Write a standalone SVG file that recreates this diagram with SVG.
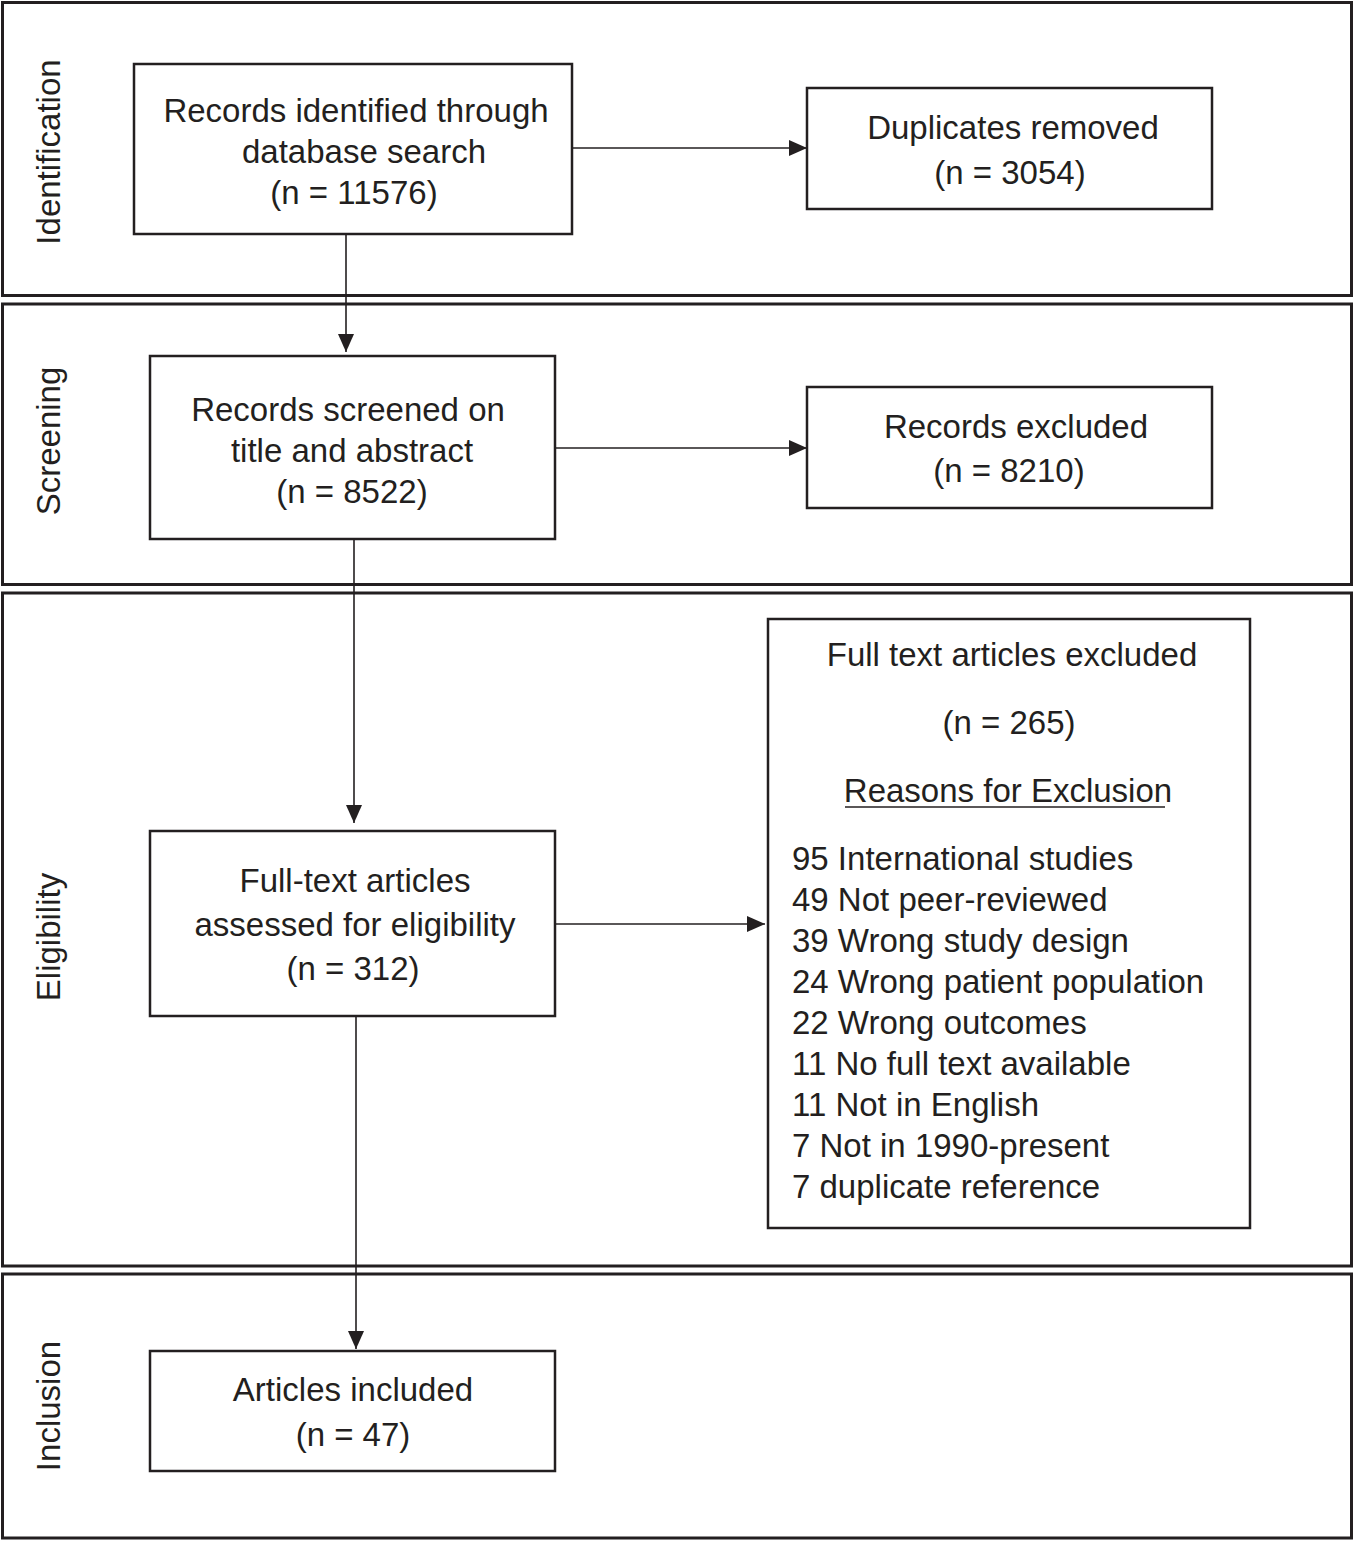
<svg xmlns="http://www.w3.org/2000/svg" width="1354" height="1541" viewBox="0 0 1354 1541">
<style>
.panel{fill:none;stroke:#231f20;stroke-width:3}
.box{fill:#fff;stroke:#231f20;stroke-width:2.5}
.conn{fill:none;stroke:#231f20;stroke-width:1.6}
text{font-family:"Liberation Sans",Arial,sans-serif;font-size:33px;fill:#231f20}
.c{text-anchor:middle}
.ph{text-anchor:middle}
</style>
<defs>
<marker id="arr" markerUnits="userSpaceOnUse" markerWidth="19" markerHeight="16" refX="18" refY="8" orient="auto">
<path d="M0,0 L18,8 L0,16 z" fill="#231f20"/>
</marker>
</defs>
<rect width="1354" height="1541" fill="#fff"/>
<g id="phases">
<rect class="panel" x="2.5" y="2.5" width="1349" height="293"/>
<rect class="panel" x="2.5" y="304" width="1349" height="280.5"/>
<rect class="panel" x="2.5" y="593" width="1349" height="673"/>
<rect class="panel" x="2.5" y="1274" width="1349" height="264"/>
<text class="ph" transform="translate(60,152) rotate(-90)">Identification</text>
<text class="ph" transform="translate(60,441) rotate(-90)">Screening</text>
<text class="ph" transform="translate(60,937) rotate(-90)">Eligibility</text>
<text class="ph" transform="translate(60,1406) rotate(-90)">Inclusion</text>
</g>
<g id="connectors">
<line class="conn" x1="572" y1="148" x2="807" y2="148" marker-end="url(#arr)"/>
<line class="conn" x1="346" y1="234" x2="346" y2="352" marker-end="url(#arr)"/>
<line class="conn" x1="555" y1="448" x2="807" y2="448" marker-end="url(#arr)"/>
<line class="conn" x1="354" y1="539" x2="354" y2="823" marker-end="url(#arr)"/>
<line class="conn" x1="555" y1="924" x2="765" y2="924" marker-end="url(#arr)"/>
<line class="conn" x1="356" y1="1016" x2="356" y2="1349" marker-end="url(#arr)"/>
</g>
<g id="identified">
<rect class="box" x="134" y="64" width="438" height="170"/>
<text class="c" x="356" y="122">Records identified through</text>
<text class="c" x="364" y="163">database search</text>
<text class="c" x="354" y="204">(n = 11576)</text>
</g>
<g id="duplicates">
<rect class="box" x="807" y="88" width="405" height="121"/>
<text class="c" x="1013" y="139">Duplicates removed</text>
<text class="c" x="1010" y="184">(n = 3054)</text>
</g>
<g id="screened">
<rect class="box" x="150" y="356" width="405" height="183"/>
<text class="c" x="348" y="421">Records screened on</text>
<text class="c" x="352" y="462">title and abstract</text>
<text class="c" x="352" y="503">(n = 8522)</text>
</g>
<g id="excluded">
<rect class="box" x="807" y="387" width="405" height="121"/>
<text class="c" x="1016" y="438">Records excluded</text>
<text class="c" x="1009" y="482">(n = 8210)</text>
</g>
<g id="fulltext">
<rect class="box" x="150" y="831" width="405" height="185"/>
<text class="c" x="355" y="892">Full-text articles</text>
<text class="c" x="355" y="936">assessed for eligibility</text>
<text class="c" x="353" y="980">(n = 312)</text>
</g>
<g id="ftexcluded">
<rect class="box" x="768" y="619" width="482" height="609"/>
<text class="c" x="1012" y="666">Full text articles excluded</text>
<text class="c" x="1009" y="734">(n = 265)</text>
<text class="c" x="1008" y="802">Reasons for Exclusion</text>
<line x1="845" y1="807" x2="1165" y2="807" stroke="#231f20" stroke-width="1.6"/>
<text x="792" y="870">95 International studies</text>
<text x="792" y="911">49 Not peer-reviewed</text>
<text x="792" y="952">39 Wrong study design</text>
<text x="792" y="993">24 Wrong patient population</text>
<text x="792" y="1034">22 Wrong outcomes</text>
<text x="792" y="1075">11 No full text available</text>
<text x="792" y="1116">11 Not in English</text>
<text x="792" y="1157">7 Not in 1990-present</text>
<text x="792" y="1198">7 duplicate reference</text>
</g>
<g id="included">
<rect class="box" x="150" y="1351" width="405" height="120"/>
<text class="c" x="353" y="1401">Articles included</text>
<text class="c" x="353" y="1446">(n = 47)</text>
</g>
</svg>
